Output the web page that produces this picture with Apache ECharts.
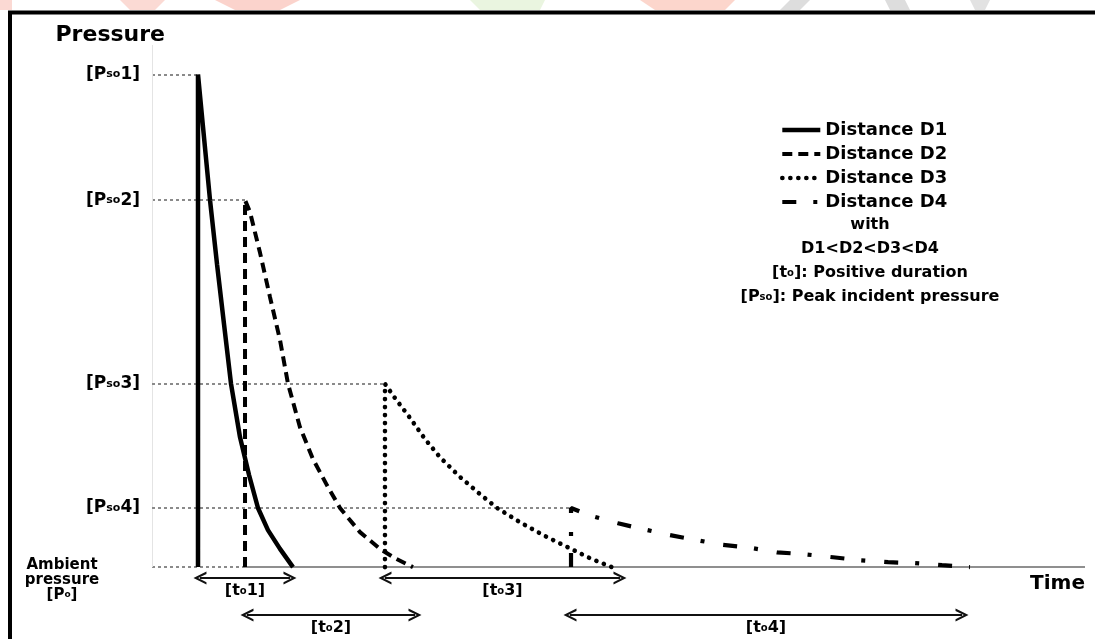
<!DOCTYPE html>
<html><head><meta charset="utf-8">
<script src="https://cdn.jsdelivr.net/npm/echarts@6/dist/echarts.min.js"></script>
<style>html,body{margin:0;padding:0;background:#fff}#c{width:1095px;height:639px}</style>
</head><body><div id="c"></div><script>
// ---- data (time units, pressure units; Pso1 = 100) ----
const seriesNames = ['Distance D1', 'Distance D2', 'Distance D3', 'Distance D4'];
const d1Time     = [4.93, 4.93, 5.47, 6.22, 6.97, 7.72, 8.47, 9.43, 10.40, 11.36, 12.43, 13.72, 15.11];
const d1Pressure = [0, 100, 89.3, 74.5, 61.5, 49.3, 37.2, 26.4, 18.7, 12.0, 7.5, 3.7, 0];
const d2Time     = [9.97, 9.97, 10.50, 11.58, 12.65, 13.72, 14.58, 15.86, 17.26, 18.76, 20.15, 22.29, 24.44, 26.05, 27.97];
const d2Pressure = [0, 74.5, 72.1, 63.8, 54.8, 46.1, 37.2, 28.4, 21.9, 16.6, 12.0, 7.1, 3.7, 1.8, 0];
const d3Time     = [24.97, 24.97, 26.05, 27.65, 29.26, 30.87, 33.01, 35.16, 36.98, 39.44, 42.12, 44.91, 46.95, 49.30];
const d3Pressure = [0, 37.2, 34.3, 30.3, 26.0, 22.3, 18.3, 14.8, 12.0, 9.1, 6.3, 3.7, 1.8, 0];
const d4Time     = [44.91, 44.91, 47.05, 49.95, 52.63, 55.52, 58.31, 61.20, 64.20, 66.99, 69.99, 72.99, 75.88, 78.89, 81.78, 84.67, 87.67];
const d4Pressure = [0, 12.0, 10.4, 8.9, 7.7, 6.5, 5.5, 4.5, 3.9, 3.0, 2.6, 2.0, 1.4, 1.0, 0.8, 0.4, 0];
const peakTime     = [4.93, 9.97, 24.97, 44.91];
const peakPressure = [100, 74.5, 37.2, 12.0];
const peakLabels   = ['1', '2', '3', '4'];
const durationStart = [5.14, 10.18, 24.97, 44.80];
const durationEnd   = [14.79, 28.19, 50.16, 86.82];
const durationLevel = [-2.23, -9.75, -2.23, -9.75];
const durationLabels = ['1', '2', '3', '4'];
const ambientPressure = 0;
const timeMax = 100;
const pressureMin = -14.6, pressureMax = 106;
const noteLines = ['with', 'D1<D2<D3<D4', '[t{s|o}]: Positive duration', '[P{s|so}]: Peak incident pressure'];

// ---- styles ----
const FONT = 'DejaVu Sans';
const bold = (size) => ({ fontFamily: FONT, fontWeight: 'bold', fontSize: size, color: '#000' });
const chevron = 'path://M0,10 L5,0 L10,10 L8.2,10 L5,3.6 L1.8,10 Z';
const lineStyles = [
  { color: '#000', width: 4.5, type: 'solid' },
  { color: '#000', width: 4, type: [10, 6], cap: 'butt' },
  { color: '#000', width: 4.6, type: [0.1, 7.9], cap: 'round' },
  { color: '#000', width: 4.2, type: [14, 17, 4, 19], cap: 'butt' }
];
const guideStyle = { color: '#8a8a8a', width: 2, type: [3, 3] };
const times = [d1Time, d2Time, d3Time, d4Time];
const pressures = [d1Pressure, d2Pressure, d3Pressure, d4Pressure];

function pairs(t, p) { return t.map((v, i) => [v, p[i]]); }

const series = seriesNames.map((name, i) => {
  const mlData = [
    [{ coord: [0, peakPressure[i]], lineStyle: guideStyle }, { coord: [peakTime[i], peakPressure[i]] }],
    [{ coord: [durationStart[i], durationLevel[i]], symbol: chevron,
       lineStyle: { color: '#111', width: 2.2, type: 'solid' },
       label: { show: true, position: 'insideMiddleBottom', distance: 5,
                formatter: () => '{n|[t}{s|o}{n|' + durationLabels[i] + ']}',
                rich: { n: bold(16), s: bold(10) } } },
     { coord: [durationEnd[i], durationLevel[i]], symbol: chevron }]
  ];
  if (i === 1) {
    mlData.push([{ coord: [0, ambientPressure], lineStyle: guideStyle }, { coord: [peakTime[1], ambientPressure] }]);
    mlData.push([{ coord: [peakTime[1], ambientPressure], lineStyle: { color: '#6a6a6a', width: 1.5, type: 'solid' } },
                 { coord: [timeMax, ambientPressure] }]);
    mlData.push([{ coord: [0, ambientPressure], lineStyle: { color: '#e4e4e4', width: 1, type: 'solid' } },
                 { coord: [0, pressureMax] }]);
  }
  return {
    name, type: 'line', data: pairs(times[i], pressures[i]),
    symbol: 'none', smooth: false, clip: false, z: 3,
    itemStyle: { color: '#000' },
    lineStyle: lineStyles[i],
    markLine: {
      silent: true, animation: false, z: 1, symbol: ['none', 'none'], symbolSize: 13,
      label: { show: false }, emphasis: { disabled: true },
      data: mlData
    }
  };
});

const chart = echarts.init(document.getElementById('c'));
chart.setOption({
  animation: false,
  backgroundColor: '#fff',
  grid: { left: 152, right: 10, top: 45, bottom: 0 },
  xAxis: {
    type: 'value', min: 0, max: timeMax,
    axisLine: { show: false, onZero: true }, axisTick: { show: false }, axisLabel: { show: false }, splitLine: { show: false },
    name: 'Time', nameLocation: 'end', nameGap: 0,
    nameTextStyle: Object.assign(bold(20), { align: 'right', verticalAlign: 'top', padding: [7, 0, 0, 0] })
  },
  yAxis: {
    type: 'value', min: pressureMin, max: pressureMax,
    axisLine: { show: false }, axisTick: { show: false }, splitLine: { show: false },
    axisLabel: {
      customValues: peakPressure, margin: 12,
      formatter: (v) => {
        let k = 0, best = 1e9;
        peakPressure.forEach((p, j) => { if (Math.abs(p - v) < best) { best = Math.abs(p - v); k = j; } });
        return '{n|[P}{s|so}{n|' + peakLabels[k] + ']}';
      },
      rich: { n: bold(17), s: bold(11) }
    },
    name: 'Pressure', nameLocation: 'end', nameGap: -1,
    nameTextStyle: Object.assign(bold(22), { align: 'right', padding: [0, -13, 0, 0] })
  },
  legend: {
    orient: 'vertical', left: 775, top: 116, itemWidth: 38, itemHeight: 18, itemGap: 6,
    selectedMode: false, data: seriesNames,
    lineStyle: { width: 'inherit' },
    itemStyle: { opacity: 0 },
    textStyle: Object.assign(bold(18), { lineHeight: 18 })
  },
  graphic: [
    // faint remnants of the page background above the frame
    { type: 'rect', silent: true, shape: { x: 0, y: 0, width: 12, height: 10 }, style: { fill: '#fbd9d3' } },
    { type: 'polygon', silent: true, shape: { points: [[120, 0], [165, 0], [155, 10], [130, 10]] }, style: { fill: '#fbdad4' } },
    { type: 'polygon', silent: true, shape: { points: [[215, 0], [300, 0], [280, 10], [235, 10]] }, style: { fill: '#fbd3cc' } },
    { type: 'polygon', silent: true, shape: { points: [[470, 0], [545, 0], [540, 10], [480, 10]] }, style: { fill: '#eaf5e0' } },
    { type: 'polygon', silent: true, shape: { points: [[640, 0], [735, 0], [725, 10], [655, 10]] }, style: { fill: '#fcd6cc' } },
    { type: 'polygon', silent: true, shape: { points: [[790, 0], [810, 0], [800, 10], [780, 10]] }, style: { fill: '#dddddd' } },
    { type: 'polygon', silent: true, shape: { points: [[885, 0], [905, 0], [910, 10], [890, 10]] }, style: { fill: '#dddddd' } },
    { type: 'polygon', silent: true, shape: { points: [[970, 0], [990, 0], [985, 10], [975, 10]] }, style: { fill: '#e2e2e2' } },
    { type: 'rect', silent: true, shape: { x: 10, y: 12.5, width: 1200, height: 700 },
      style: { fill: 'none', stroke: '#000', lineWidth: 4 } },
    { type: 'text', silent: true, x: 62, y: 580,
      style: { text: 'Ambient\npressure\n[P{s|o}]', align: 'center', verticalAlign: 'middle',
               font: 'bold 15px "DejaVu Sans"', fill: '#000', lineHeight: 15,
               rich: { s: { fontFamily: FONT, fontWeight: 'bold', fontSize: 9, fill: '#000' } } } },
    { type: 'text', silent: true, x: 870, y: 213,
      style: { text: noteLines.join('\n'), align: 'center', verticalAlign: 'top',
               font: 'bold 16px "DejaVu Sans"', fill: '#000', lineHeight: 24,
               rich: { s: { fontFamily: FONT, fontWeight: 'bold', fontSize: 10, fill: '#000', lineHeight: 24 } } } }
  ],
  series
});
</script></body></html>
